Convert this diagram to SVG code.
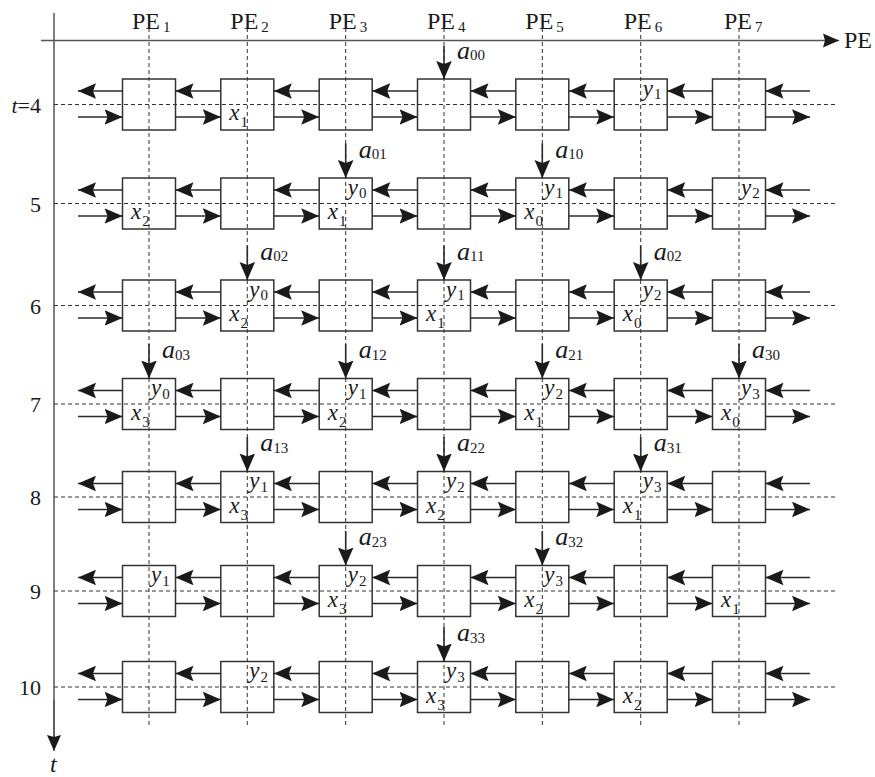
<svg xmlns="http://www.w3.org/2000/svg" width="875" height="777" viewBox="0 0 875 777">
<style>
text{font-family:"Liberation Serif","Times New Roman",serif;fill:#1a1a1a}
.box{fill:none;stroke:#333;stroke-width:1.5}
.dash{fill:none;stroke:#333;stroke-width:1;stroke-dasharray:4 3}
.con{stroke:#2a2a2a;stroke-width:1.6;marker-end:url(#ah)}
.axis{stroke:#555;stroke-width:1.5;marker-end:url(#ax)}
.axis0{stroke:#555;stroke-width:1.5}
.v{font-size:23px;font-style:italic}
.s{font-size:15px;font-style:normal}
.pe{font-size:24px}
.rl{font-size:22px;text-anchor:end}
.a{font-size:26px;font-style:italic}
</style>
<defs>
<marker id="ah" viewBox="-18 -8 18 16" refX="0" refY="0" markerWidth="18" markerHeight="16" markerUnits="userSpaceOnUse" orient="auto"><path d="M0,0 L-18,-7.8 L-15,0 L-18,7.8 Z" fill="#1a1a1a"/></marker>
<marker id="ax" viewBox="-16 -8 16 16" refX="0" refY="0" markerWidth="16" markerHeight="16" markerUnits="userSpaceOnUse" orient="auto"><path d="M0,0 L-16,-7 L-14,0 L-16,7 Z" fill="#1a1a1a"/></marker>
</defs>

<g id="axes">
<line class="axis0" x1="54" y1="13" x2="54" y2="740"/>
<line class="axis" x1="54" y1="700" x2="54" y2="751"/>
<line class="axis" x1="41" y1="40.5" x2="839" y2="40.5"/>
<text class="pe" x="844" y="48">PE</text>
<text class="v" x="50" y="772" style="font-size:24px">t</text>
</g>

<g id="grid">
<line class="dash" x1="149" y1="28" x2="149" y2="728"/>
<line class="dash" x1="247.3" y1="28" x2="247.3" y2="728"/>
<line class="dash" x1="345.7" y1="28" x2="345.7" y2="728"/>
<line class="dash" x1="444" y1="28" x2="444" y2="728"/>
<line class="dash" x1="542.3" y1="28" x2="542.3" y2="728"/>
<line class="dash" x1="640.7" y1="28" x2="640.7" y2="728"/>
<line class="dash" x1="739" y1="28" x2="739" y2="728"/>
<line class="dash" x1="54" y1="104.5" x2="835" y2="104.5"/>
<line class="dash" x1="54" y1="203.5" x2="835" y2="203.5"/>
<line class="dash" x1="54" y1="305.5" x2="835" y2="305.5"/>
<line class="dash" x1="54" y1="404" x2="835" y2="404"/>
<line class="dash" x1="54" y1="497" x2="835" y2="497"/>
<line class="dash" x1="54" y1="591" x2="835" y2="591"/>
<line class="dash" x1="54" y1="687" x2="835" y2="687"/>
</g>

<g id="headers">
<text class="pe" x="132" y="29">PE<tspan class="s" dx="3" dy="3">1</tspan></text>
<text class="pe" x="230.3" y="29">PE<tspan class="s" dx="3" dy="3">2</tspan></text>
<text class="pe" x="328.7" y="29">PE<tspan class="s" dx="3" dy="3">3</tspan></text>
<text class="pe" x="427" y="29">PE<tspan class="s" dx="3" dy="3">4</tspan></text>
<text class="pe" x="525.3" y="29">PE<tspan class="s" dx="3" dy="3">5</tspan></text>
<text class="pe" x="623.7" y="29">PE<tspan class="s" dx="3" dy="3">6</tspan></text>
<text class="pe" x="724" y="29">PE<tspan class="s" dx="3" dy="3">7</tspan></text>
</g>

<g id="row-labels">
<text class="rl" x="41" y="112.5"><tspan font-style="italic">t</tspan>=4</text>
<text class="rl" x="41" y="211.5">5</text>
<text class="rl" x="41" y="313.5">6</text>
<text class="rl" x="41" y="412">7</text>
<text class="rl" x="41" y="505">8</text>
<text class="rl" x="41" y="599">9</text>
<text class="rl" x="41" y="695">10</text>
</g>

<g id="nodes">
<!-- t=4 -->
<g id="n4-1" transform="translate(149,104.5)"><rect class="box" x="-26.5" y="-25.5" width="53" height="51"/></g>
<g id="n4-2" transform="translate(247.3,104.5)"><rect class="box" x="-26.5" y="-25.5" width="53" height="51"/><text class="v" x="-18" y="15.5">x<tspan class="s" dx="1" dy="7">1</tspan></text></g>
<g id="n4-3" transform="translate(345.7,104.5)"><rect class="box" x="-26.5" y="-25.5" width="53" height="51"/></g>
<g id="n4-4" transform="translate(444,104.5)"><rect class="box" x="-26.5" y="-25.5" width="53" height="51"/></g>
<g id="n4-5" transform="translate(542.3,104.5)"><rect class="box" x="-26.5" y="-25.5" width="53" height="51"/></g>
<g id="n4-6" transform="translate(640.7,104.5)"><rect class="box" x="-26.5" y="-25.5" width="53" height="51"/><text class="v" x="2" y="-9">y<tspan class="s" dx="1" dy="3.5">1</tspan></text></g>
<g id="n4-7" transform="translate(739,104.5)"><rect class="box" x="-26.5" y="-25.5" width="53" height="51"/></g>
<!-- t=5 -->
<g id="n5-1" transform="translate(149,203.5)"><rect class="box" x="-26.5" y="-25.5" width="53" height="51"/><text class="v" x="-18" y="15.5">x<tspan class="s" dx="1" dy="7">2</tspan></text></g>
<g id="n5-2" transform="translate(247.3,203.5)"><rect class="box" x="-26.5" y="-25.5" width="53" height="51"/></g>
<g id="n5-3" transform="translate(345.7,203.5)"><rect class="box" x="-26.5" y="-25.5" width="53" height="51"/><text class="v" x="2" y="-9">y<tspan class="s" dx="1" dy="3.5">0</tspan></text><text class="v" x="-18" y="15.5">x<tspan class="s" dx="1" dy="7">1</tspan></text></g>
<g id="n5-4" transform="translate(444,203.5)"><rect class="box" x="-26.5" y="-25.5" width="53" height="51"/></g>
<g id="n5-5" transform="translate(542.3,203.5)"><rect class="box" x="-26.5" y="-25.5" width="53" height="51"/><text class="v" x="2" y="-9">y<tspan class="s" dx="1" dy="3.5">1</tspan></text><text class="v" x="-18" y="15.5">x<tspan class="s" dx="1" dy="7">0</tspan></text></g>
<g id="n5-6" transform="translate(640.7,203.5)"><rect class="box" x="-26.5" y="-25.5" width="53" height="51"/></g>
<g id="n5-7" transform="translate(739,203.5)"><rect class="box" x="-26.5" y="-25.5" width="53" height="51"/><text class="v" x="2" y="-9">y<tspan class="s" dx="1" dy="3.5">2</tspan></text></g>
<!-- t=6 -->
<g id="n6-1" transform="translate(149,305.5)"><rect class="box" x="-26.5" y="-25.5" width="53" height="51"/></g>
<g id="n6-2" transform="translate(247.3,305.5)"><rect class="box" x="-26.5" y="-25.5" width="53" height="51"/><text class="v" x="2" y="-9">y<tspan class="s" dx="1" dy="3.5">0</tspan></text><text class="v" x="-18" y="15.5">x<tspan class="s" dx="1" dy="7">2</tspan></text></g>
<g id="n6-3" transform="translate(345.7,305.5)"><rect class="box" x="-26.5" y="-25.5" width="53" height="51"/></g>
<g id="n6-4" transform="translate(444,305.5)"><rect class="box" x="-26.5" y="-25.5" width="53" height="51"/><text class="v" x="2" y="-9">y<tspan class="s" dx="1" dy="3.5">1</tspan></text><text class="v" x="-18" y="15.5">x<tspan class="s" dx="1" dy="7">1</tspan></text></g>
<g id="n6-5" transform="translate(542.3,305.5)"><rect class="box" x="-26.5" y="-25.5" width="53" height="51"/></g>
<g id="n6-6" transform="translate(640.7,305.5)"><rect class="box" x="-26.5" y="-25.5" width="53" height="51"/><text class="v" x="2" y="-9">y<tspan class="s" dx="1" dy="3.5">2</tspan></text><text class="v" x="-18" y="15.5">x<tspan class="s" dx="1" dy="7">0</tspan></text></g>
<g id="n6-7" transform="translate(739,305.5)"><rect class="box" x="-26.5" y="-25.5" width="53" height="51"/></g>
<!-- t=7 -->
<g id="n7-1" transform="translate(149,404)"><rect class="box" x="-26.5" y="-25.5" width="53" height="51"/><text class="v" x="2" y="-9">y<tspan class="s" dx="1" dy="3.5">0</tspan></text><text class="v" x="-18" y="15.5">x<tspan class="s" dx="1" dy="7">3</tspan></text></g>
<g id="n7-2" transform="translate(247.3,404)"><rect class="box" x="-26.5" y="-25.5" width="53" height="51"/></g>
<g id="n7-3" transform="translate(345.7,404)"><rect class="box" x="-26.5" y="-25.5" width="53" height="51"/><text class="v" x="2" y="-9">y<tspan class="s" dx="1" dy="3.5">1</tspan></text><text class="v" x="-18" y="15.5">x<tspan class="s" dx="1" dy="7">2</tspan></text></g>
<g id="n7-4" transform="translate(444,404)"><rect class="box" x="-26.5" y="-25.5" width="53" height="51"/></g>
<g id="n7-5" transform="translate(542.3,404)"><rect class="box" x="-26.5" y="-25.5" width="53" height="51"/><text class="v" x="2" y="-9">y<tspan class="s" dx="1" dy="3.5">2</tspan></text><text class="v" x="-18" y="15.5">x<tspan class="s" dx="1" dy="7">1</tspan></text></g>
<g id="n7-6" transform="translate(640.7,404)"><rect class="box" x="-26.5" y="-25.5" width="53" height="51"/></g>
<g id="n7-7" transform="translate(739,404)"><rect class="box" x="-26.5" y="-25.5" width="53" height="51"/><text class="v" x="2" y="-9">y<tspan class="s" dx="1" dy="3.5">3</tspan></text><text class="v" x="-18" y="15.5">x<tspan class="s" dx="1" dy="7">0</tspan></text></g>
<!-- t=8 -->
<g id="n8-1" transform="translate(149,497)"><rect class="box" x="-26.5" y="-25.5" width="53" height="51"/></g>
<g id="n8-2" transform="translate(247.3,497)"><rect class="box" x="-26.5" y="-25.5" width="53" height="51"/><text class="v" x="2" y="-9">y<tspan class="s" dx="1" dy="3.5">1</tspan></text><text class="v" x="-18" y="15.5">x<tspan class="s" dx="1" dy="7">3</tspan></text></g>
<g id="n8-3" transform="translate(345.7,497)"><rect class="box" x="-26.5" y="-25.5" width="53" height="51"/></g>
<g id="n8-4" transform="translate(444,497)"><rect class="box" x="-26.5" y="-25.5" width="53" height="51"/><text class="v" x="2" y="-9">y<tspan class="s" dx="1" dy="3.5">2</tspan></text><text class="v" x="-18" y="15.5">x<tspan class="s" dx="1" dy="7">2</tspan></text></g>
<g id="n8-5" transform="translate(542.3,497)"><rect class="box" x="-26.5" y="-25.5" width="53" height="51"/></g>
<g id="n8-6" transform="translate(640.7,497)"><rect class="box" x="-26.5" y="-25.5" width="53" height="51"/><text class="v" x="2" y="-9">y<tspan class="s" dx="1" dy="3.5">3</tspan></text><text class="v" x="-18" y="15.5">x<tspan class="s" dx="1" dy="7">1</tspan></text></g>
<g id="n8-7" transform="translate(739,497)"><rect class="box" x="-26.5" y="-25.5" width="53" height="51"/></g>
<!-- t=9 -->
<g id="n9-1" transform="translate(149,591)"><rect class="box" x="-26.5" y="-25.5" width="53" height="51"/><text class="v" x="2" y="-9">y<tspan class="s" dx="1" dy="3.5">1</tspan></text></g>
<g id="n9-2" transform="translate(247.3,591)"><rect class="box" x="-26.5" y="-25.5" width="53" height="51"/></g>
<g id="n9-3" transform="translate(345.7,591)"><rect class="box" x="-26.5" y="-25.5" width="53" height="51"/><text class="v" x="2" y="-9">y<tspan class="s" dx="1" dy="3.5">2</tspan></text><text class="v" x="-18" y="15.5">x<tspan class="s" dx="1" dy="7">3</tspan></text></g>
<g id="n9-4" transform="translate(444,591)"><rect class="box" x="-26.5" y="-25.5" width="53" height="51"/></g>
<g id="n9-5" transform="translate(542.3,591)"><rect class="box" x="-26.5" y="-25.5" width="53" height="51"/><text class="v" x="2" y="-9">y<tspan class="s" dx="1" dy="3.5">3</tspan></text><text class="v" x="-18" y="15.5">x<tspan class="s" dx="1" dy="7">2</tspan></text></g>
<g id="n9-6" transform="translate(640.7,591)"><rect class="box" x="-26.5" y="-25.5" width="53" height="51"/></g>
<g id="n9-7" transform="translate(739,591)"><rect class="box" x="-26.5" y="-25.5" width="53" height="51"/><text class="v" x="-18" y="15.5">x<tspan class="s" dx="1" dy="7">1</tspan></text></g>
<!-- t=10 -->
<g id="n10-1" transform="translate(149,687)"><rect class="box" x="-26.5" y="-25.5" width="53" height="51"/></g>
<g id="n10-2" transform="translate(247.3,687)"><rect class="box" x="-26.5" y="-25.5" width="53" height="51"/><text class="v" x="2" y="-9">y<tspan class="s" dx="1" dy="3.5">2</tspan></text></g>
<g id="n10-3" transform="translate(345.7,687)"><rect class="box" x="-26.5" y="-25.5" width="53" height="51"/></g>
<g id="n10-4" transform="translate(444,687)"><rect class="box" x="-26.5" y="-25.5" width="53" height="51"/><text class="v" x="2" y="-9">y<tspan class="s" dx="1" dy="3.5">3</tspan></text><text class="v" x="-18" y="15.5">x<tspan class="s" dx="1" dy="7">3</tspan></text></g>
<g id="n10-5" transform="translate(542.3,687)"><rect class="box" x="-26.5" y="-25.5" width="53" height="51"/></g>
<g id="n10-6" transform="translate(640.7,687)"><rect class="box" x="-26.5" y="-25.5" width="53" height="51"/><text class="v" x="-18" y="15.5">x<tspan class="s" dx="1" dy="7">2</tspan></text></g>
<g id="n10-7" transform="translate(739,687)"><rect class="box" x="-26.5" y="-25.5" width="53" height="51"/></g>
</g>

<g id="connectors">
<g transform="translate(0,104.5)">
<line class="con" x1="122.5" y1="-13.5" x2="78" y2="-13.5"/><line class="con" x1="220.8" y1="-13.5" x2="175.5" y2="-13.5"/><line class="con" x1="319.2" y1="-13.5" x2="273.8" y2="-13.5"/><line class="con" x1="417.5" y1="-13.5" x2="372.2" y2="-13.5"/><line class="con" x1="515.8" y1="-13.5" x2="470.5" y2="-13.5"/><line class="con" x1="614.2" y1="-13.5" x2="568.8" y2="-13.5"/><line class="con" x1="712.5" y1="-13.5" x2="667.2" y2="-13.5"/><line class="con" x1="810" y1="-13.5" x2="765.5" y2="-13.5"/>
<line class="con" x1="78" y1="12.5" x2="122.5" y2="12.5"/><line class="con" x1="175.5" y1="12.5" x2="220.8" y2="12.5"/><line class="con" x1="273.8" y1="12.5" x2="319.2" y2="12.5"/><line class="con" x1="372.2" y1="12.5" x2="417.5" y2="12.5"/><line class="con" x1="470.5" y1="12.5" x2="515.8" y2="12.5"/><line class="con" x1="568.8" y1="12.5" x2="614.2" y2="12.5"/><line class="con" x1="667.2" y1="12.5" x2="712.5" y2="12.5"/><line class="con" x1="765.5" y1="12.5" x2="810" y2="12.5"/>
</g>
<g transform="translate(0,203.5)">
<line class="con" x1="122.5" y1="-13.5" x2="78" y2="-13.5"/><line class="con" x1="220.8" y1="-13.5" x2="175.5" y2="-13.5"/><line class="con" x1="319.2" y1="-13.5" x2="273.8" y2="-13.5"/><line class="con" x1="417.5" y1="-13.5" x2="372.2" y2="-13.5"/><line class="con" x1="515.8" y1="-13.5" x2="470.5" y2="-13.5"/><line class="con" x1="614.2" y1="-13.5" x2="568.8" y2="-13.5"/><line class="con" x1="712.5" y1="-13.5" x2="667.2" y2="-13.5"/><line class="con" x1="810" y1="-13.5" x2="765.5" y2="-13.5"/>
<line class="con" x1="78" y1="12.5" x2="122.5" y2="12.5"/><line class="con" x1="175.5" y1="12.5" x2="220.8" y2="12.5"/><line class="con" x1="273.8" y1="12.5" x2="319.2" y2="12.5"/><line class="con" x1="372.2" y1="12.5" x2="417.5" y2="12.5"/><line class="con" x1="470.5" y1="12.5" x2="515.8" y2="12.5"/><line class="con" x1="568.8" y1="12.5" x2="614.2" y2="12.5"/><line class="con" x1="667.2" y1="12.5" x2="712.5" y2="12.5"/><line class="con" x1="765.5" y1="12.5" x2="810" y2="12.5"/>
</g>
<g transform="translate(0,305.5)">
<line class="con" x1="122.5" y1="-13.5" x2="78" y2="-13.5"/><line class="con" x1="220.8" y1="-13.5" x2="175.5" y2="-13.5"/><line class="con" x1="319.2" y1="-13.5" x2="273.8" y2="-13.5"/><line class="con" x1="417.5" y1="-13.5" x2="372.2" y2="-13.5"/><line class="con" x1="515.8" y1="-13.5" x2="470.5" y2="-13.5"/><line class="con" x1="614.2" y1="-13.5" x2="568.8" y2="-13.5"/><line class="con" x1="712.5" y1="-13.5" x2="667.2" y2="-13.5"/><line class="con" x1="810" y1="-13.5" x2="765.5" y2="-13.5"/>
<line class="con" x1="78" y1="12.5" x2="122.5" y2="12.5"/><line class="con" x1="175.5" y1="12.5" x2="220.8" y2="12.5"/><line class="con" x1="273.8" y1="12.5" x2="319.2" y2="12.5"/><line class="con" x1="372.2" y1="12.5" x2="417.5" y2="12.5"/><line class="con" x1="470.5" y1="12.5" x2="515.8" y2="12.5"/><line class="con" x1="568.8" y1="12.5" x2="614.2" y2="12.5"/><line class="con" x1="667.2" y1="12.5" x2="712.5" y2="12.5"/><line class="con" x1="765.5" y1="12.5" x2="810" y2="12.5"/>
</g>
<g transform="translate(0,404)">
<line class="con" x1="122.5" y1="-13.5" x2="78" y2="-13.5"/><line class="con" x1="220.8" y1="-13.5" x2="175.5" y2="-13.5"/><line class="con" x1="319.2" y1="-13.5" x2="273.8" y2="-13.5"/><line class="con" x1="417.5" y1="-13.5" x2="372.2" y2="-13.5"/><line class="con" x1="515.8" y1="-13.5" x2="470.5" y2="-13.5"/><line class="con" x1="614.2" y1="-13.5" x2="568.8" y2="-13.5"/><line class="con" x1="712.5" y1="-13.5" x2="667.2" y2="-13.5"/><line class="con" x1="810" y1="-13.5" x2="765.5" y2="-13.5"/>
<line class="con" x1="78" y1="12.5" x2="122.5" y2="12.5"/><line class="con" x1="175.5" y1="12.5" x2="220.8" y2="12.5"/><line class="con" x1="273.8" y1="12.5" x2="319.2" y2="12.5"/><line class="con" x1="372.2" y1="12.5" x2="417.5" y2="12.5"/><line class="con" x1="470.5" y1="12.5" x2="515.8" y2="12.5"/><line class="con" x1="568.8" y1="12.5" x2="614.2" y2="12.5"/><line class="con" x1="667.2" y1="12.5" x2="712.5" y2="12.5"/><line class="con" x1="765.5" y1="12.5" x2="810" y2="12.5"/>
</g>
<g transform="translate(0,497)">
<line class="con" x1="122.5" y1="-13.5" x2="78" y2="-13.5"/><line class="con" x1="220.8" y1="-13.5" x2="175.5" y2="-13.5"/><line class="con" x1="319.2" y1="-13.5" x2="273.8" y2="-13.5"/><line class="con" x1="417.5" y1="-13.5" x2="372.2" y2="-13.5"/><line class="con" x1="515.8" y1="-13.5" x2="470.5" y2="-13.5"/><line class="con" x1="614.2" y1="-13.5" x2="568.8" y2="-13.5"/><line class="con" x1="712.5" y1="-13.5" x2="667.2" y2="-13.5"/><line class="con" x1="810" y1="-13.5" x2="765.5" y2="-13.5"/>
<line class="con" x1="78" y1="12.5" x2="122.5" y2="12.5"/><line class="con" x1="175.5" y1="12.5" x2="220.8" y2="12.5"/><line class="con" x1="273.8" y1="12.5" x2="319.2" y2="12.5"/><line class="con" x1="372.2" y1="12.5" x2="417.5" y2="12.5"/><line class="con" x1="470.5" y1="12.5" x2="515.8" y2="12.5"/><line class="con" x1="568.8" y1="12.5" x2="614.2" y2="12.5"/><line class="con" x1="667.2" y1="12.5" x2="712.5" y2="12.5"/><line class="con" x1="765.5" y1="12.5" x2="810" y2="12.5"/>
</g>
<g transform="translate(0,591)">
<line class="con" x1="122.5" y1="-13.5" x2="78" y2="-13.5"/><line class="con" x1="220.8" y1="-13.5" x2="175.5" y2="-13.5"/><line class="con" x1="319.2" y1="-13.5" x2="273.8" y2="-13.5"/><line class="con" x1="417.5" y1="-13.5" x2="372.2" y2="-13.5"/><line class="con" x1="515.8" y1="-13.5" x2="470.5" y2="-13.5"/><line class="con" x1="614.2" y1="-13.5" x2="568.8" y2="-13.5"/><line class="con" x1="712.5" y1="-13.5" x2="667.2" y2="-13.5"/><line class="con" x1="810" y1="-13.5" x2="765.5" y2="-13.5"/>
<line class="con" x1="78" y1="12.5" x2="122.5" y2="12.5"/><line class="con" x1="175.5" y1="12.5" x2="220.8" y2="12.5"/><line class="con" x1="273.8" y1="12.5" x2="319.2" y2="12.5"/><line class="con" x1="372.2" y1="12.5" x2="417.5" y2="12.5"/><line class="con" x1="470.5" y1="12.5" x2="515.8" y2="12.5"/><line class="con" x1="568.8" y1="12.5" x2="614.2" y2="12.5"/><line class="con" x1="667.2" y1="12.5" x2="712.5" y2="12.5"/><line class="con" x1="765.5" y1="12.5" x2="810" y2="12.5"/>
</g>
<g transform="translate(0,687)">
<line class="con" x1="122.5" y1="-13.5" x2="78" y2="-13.5"/><line class="con" x1="220.8" y1="-13.5" x2="175.5" y2="-13.5"/><line class="con" x1="319.2" y1="-13.5" x2="273.8" y2="-13.5"/><line class="con" x1="417.5" y1="-13.5" x2="372.2" y2="-13.5"/><line class="con" x1="515.8" y1="-13.5" x2="470.5" y2="-13.5"/><line class="con" x1="614.2" y1="-13.5" x2="568.8" y2="-13.5"/><line class="con" x1="712.5" y1="-13.5" x2="667.2" y2="-13.5"/><line class="con" x1="810" y1="-13.5" x2="765.5" y2="-13.5"/>
<line class="con" x1="78" y1="12.5" x2="122.5" y2="12.5"/><line class="con" x1="175.5" y1="12.5" x2="220.8" y2="12.5"/><line class="con" x1="273.8" y1="12.5" x2="319.2" y2="12.5"/><line class="con" x1="372.2" y1="12.5" x2="417.5" y2="12.5"/><line class="con" x1="470.5" y1="12.5" x2="515.8" y2="12.5"/><line class="con" x1="568.8" y1="12.5" x2="614.2" y2="12.5"/><line class="con" x1="667.2" y1="12.5" x2="712.5" y2="12.5"/><line class="con" x1="765.5" y1="12.5" x2="810" y2="12.5"/>
</g>
<g id="inputs">
<line class="con" x1="444" y1="46" x2="444" y2="79"/>
<line class="con" x1="345.7" y1="143.5" x2="345.7" y2="178"/>
<line class="con" x1="542.3" y1="143.5" x2="542.3" y2="178"/>
<line class="con" x1="247.3" y1="245.5" x2="247.3" y2="280"/>
<line class="con" x1="444" y1="245.5" x2="444" y2="280"/>
<line class="con" x1="640.7" y1="245.5" x2="640.7" y2="280"/>
<line class="con" x1="149" y1="344" x2="149" y2="378.5"/>
<line class="con" x1="345.7" y1="344" x2="345.7" y2="378.5"/>
<line class="con" x1="542.3" y1="344" x2="542.3" y2="378.5"/>
<line class="con" x1="739" y1="344" x2="739" y2="378.5"/>
<line class="con" x1="247.3" y1="437" x2="247.3" y2="471.5"/>
<line class="con" x1="444" y1="437" x2="444" y2="471.5"/>
<line class="con" x1="640.7" y1="437" x2="640.7" y2="471.5"/>
<line class="con" x1="345.7" y1="531" x2="345.7" y2="565.5"/>
<line class="con" x1="542.3" y1="531" x2="542.3" y2="565.5"/>
<line class="con" x1="444" y1="627" x2="444" y2="661.5"/>
</g>
</g>

<g id="input-labels">
<text class="a" x="457" y="58.5">a<tspan class="s" dy="1.5">00</tspan></text>
<text class="a" x="358.7" y="157.5">a<tspan class="s" dy="1.5">01</tspan></text>
<text class="a" x="555.3" y="157.5">a<tspan class="s" dy="1.5">10</tspan></text>
<text class="a" x="260.3" y="259.5">a<tspan class="s" dy="1.5">02</tspan></text>
<text class="a" x="457" y="259.5">a<tspan class="s" dy="1.5">11</tspan></text>
<text class="a" x="653.7" y="259.5">a<tspan class="s" dy="1.5">02</tspan></text>
<text class="a" x="162" y="358">a<tspan class="s" dy="1.5">03</tspan></text>
<text class="a" x="358.7" y="358">a<tspan class="s" dy="1.5">12</tspan></text>
<text class="a" x="555.3" y="358">a<tspan class="s" dy="1.5">21</tspan></text>
<text class="a" x="752" y="358">a<tspan class="s" dy="1.5">30</tspan></text>
<text class="a" x="260.3" y="451">a<tspan class="s" dy="1.5">13</tspan></text>
<text class="a" x="457" y="451">a<tspan class="s" dy="1.5">22</tspan></text>
<text class="a" x="653.7" y="451">a<tspan class="s" dy="1.5">31</tspan></text>
<text class="a" x="358.7" y="545">a<tspan class="s" dy="1.5">23</tspan></text>
<text class="a" x="555.3" y="545">a<tspan class="s" dy="1.5">32</tspan></text>
<text class="a" x="457" y="641">a<tspan class="s" dy="1.5">33</tspan></text>
</g>
</svg>
